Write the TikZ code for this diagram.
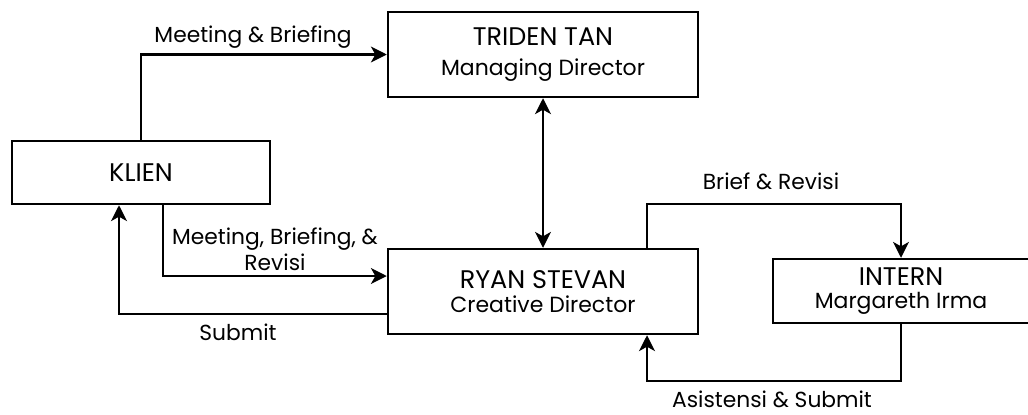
\documentclass[tikz,border=0pt]{standalone}
\usepackage{fontspec}
\setmainfont{Poppins}
\usetikzlibrary{arrows.meta,calc}

\tikzset{
	box/.style={draw, line width=1.4pt, align=center, inner sep=0pt},
	arr/.style={line width=1.4pt, -{Stealth[length=9pt,width=9pt,inset=2.5pt]}},
	darr/.style={line width=1.4pt, {Stealth[length=9pt,width=9pt,inset=2.5pt]}-{Stealth[length=9pt,width=9pt,inset=2.5pt]}},
	lbl/.style={font=\fontsize{12.4}{14}\selectfont, align=center, inner sep=0pt}
}
\newcommand{\role}[3]{{\fontsize{14.5}{16}\selectfont #1}\\[#3]{\fontsize{12.5}{14}\selectfont #2}}

\begin{document}
\begin{tikzpicture}[x=0.02cm, y=-0.02cm]
	\useasboundingbox (0,0) rectangle (1028,414);

	\node[box, minimum width=258*0.02cm, minimum height=63*0.02cm] (klien) at (141,172.5) {\fontsize{14.5}{16}\selectfont KLIEN};
	\node[box, minimum width=310*0.02cm, minimum height=85*0.02cm] (triden) at (543,54.5) {\role{TRIDEN TAN}{Managing Director}{5pt}};
	\node[box, minimum width=310*0.02cm, minimum height=85*0.02cm] (ryan) at (543,291.5) {\role{RYAN STEVAN}{Creative Director}{2pt}};
	\node[box, minimum width=256*0.02cm, minimum height=64*0.02cm] (intern) at (901,291) {\role{INTERN}{Margareth Irma}{1pt}};

	% klien ke managing director
	\draw[arr] (klien.north) |- (triden.west);
	\node[lbl] (l1) at (253,37) {Meeting \& Briefing};

	% klien ke creative director dan balik
	\draw[arr] ($(klien.south)+(22,0)$) |- ($(ryan.west)+(0,-15.5)$);
	\node[lbl] (l2) at (275,249) {Meeting, Briefing, \&\\[1pt] Revisi};
	\draw[arr] ($(ryan.west)+(0,22.5)$) -| ($(klien.south)+(-22,0)$);
	\node[lbl] (l3) at (238,332) {Submit};

	\draw[darr] (triden.south) -- (ryan.north);

	% creative director dan intern
	\draw[arr] ($(ryan.north)+(104,0)$) |- ($(intern.north)+(0,-54)$) -- (intern.north);
	\node[lbl] (l4) at (771,181) {Brief \& Revisi};
	\draw[arr] (intern.south) -- ($(intern.south)+(0,57)$) -| ($(ryan.south)+(104,0)$);
	\node[lbl] (l5) at (772,399) {Asistensi \& Submit};
\end{tikzpicture}
\end{document}
